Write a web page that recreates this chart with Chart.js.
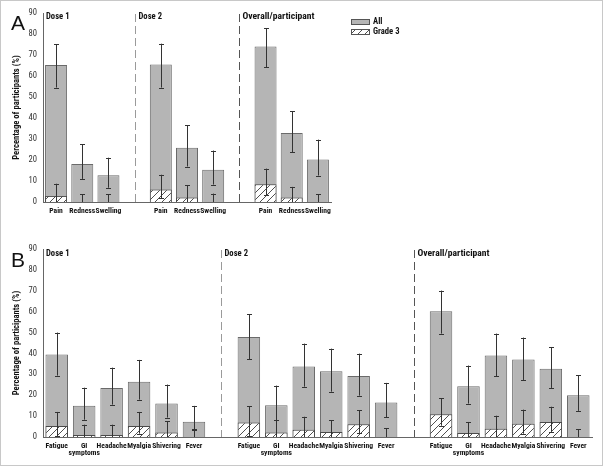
<!DOCTYPE html>
<html>
<head>
<meta charset="utf-8">
<script src="https://cdn.jsdelivr.net/npm/chart.js@4.4.0/dist/chart.umd.min.js"></script>
<style>
  body { margin: 0; background: #fff; }
  #marco { position: relative; width: 603px; height: 466px; overflow: hidden; }
  #marco canvas { position: absolute; left: 0; }
  .letra { position: absolute; font: 21px "Liberation Sans", Arial, sans-serif; color: #111; }
  #borde { position: absolute; left: 0; top: 0; width: 601px; height: 464px; border: 1px solid #c8c8c8; pointer-events: none; }
</style>
</head>
<body>
<div id="marco">
  <canvas id="graficoA" width="603" height="220" style="top:0"></canvas>
  <canvas id="graficoB" width="603" height="246" style="top:220px"></canvas>
  <div class="letra" style="left:11px;top:11px">A</div>
  <div class="letra" style="left:11px;top:248px">B</div>
  <div id="borde"></div>
</div>
<script>
// Panel A: reacciones locales
var categoriasA = ["Pain", "Redness", "Swelling", "", "Pain", "Redness", "Swelling", "", "Pain", "Redness", "Swelling"];
var todosA = [65.2, 18.1, 12.7, null, 65.5, 25.8, 15.3, null, 74.1, 32.8, 20.2];
var todosBajoA = [54.5, 11.0, 6.8, null, 54.5, 16.9, 8.3, null, 64.1, 23.7, 12.6];
var todosAltoA = [75.0, 27.5, 21.1, null, 75.4, 36.6, 24.5, null, 82.7, 43.1, 29.7];
var grado3A = [2.9, 0, 0, null, 5.9, 2.2, 0, null, 8.4, 2.2, 0];
var grado3BajoA = [0, 0, 0, null, 1.9, 0, 0, null, 3.3, 0, 0];
var grado3AltoA = [8.7, 3.7, 3.7, null, 13.0, 8.1, 4.0, null, 15.9, 7.2, 3.7];
var seccionesA = ["Dose 1", "Dose 2", "Overall/participant"];
var inicioSeccionA = [0, 4, 8];

// Panel B: reacciones sistemicas
var categoriasB = ["Fatigue", ["GI", "symptoms"], "Headache", "Myalgia", "Shivering", "Fever", "",
                   "Fatigue", ["GI", "symptoms"], "Headache", "Myalgia", "Shivering", "Fever", "",
                   "Fatigue", ["GI", "symptoms"], "Headache", "Myalgia", "Shivering", "Fever"];
var todosB = [39.5, 15.0, 23.5, 26.5, 16.0, 7.3, null, 47.9, 15.2, 33.7, 31.5, 29.2, 16.5, null, 60.2, 24.3, 39.0, 37.1, 32.7, 20.0];
var todosBajoB = [29.4, 8.3, 15.5, 17.9, 9.3, 3.2, null, 37.2, 8.1, 24.1, 21.7, 19.8, 9.4, null, 49.5, 16.0, 29.1, 27.3, 23.5, 12.5];
var todosAltoB = [50.0, 23.6, 33.2, 36.9, 25.1, 14.9, null, 58.8, 24.6, 44.7, 42.3, 39.9, 25.9, null, 70.1, 34.2, 49.5, 47.6, 43.1, 29.6];
var grado3B = [5.3, 1.0, 1.0, 5.3, 2.1, 0, null, 6.9, 2.2, 3.5, 2.4, 6.1, 0, null, 10.9, 1.9, 4.0, 6.4, 7.2, 0];
var grado3BajoB = [0.5, 0, 0, 1.6, 0, 0, null, 0.5, 0, 0, 0, 1.9, 0, null, 5.4, 0, 0, 1.6, 2.6, 0];
var grado3AltoB = [12.0, 5.9, 5.9, 12.0, 7.5, 3.7, null, 14.7, 8.1, 9.7, 8.1, 12.9, 4.2, null, 18.5, 7.2, 10.2, 13.1, 14.5, 3.8];
var seccionesB = ["Dose 1", "Dose 2", "Overall/participant"];
var inicioSeccionB = [0, 7, 14];

var etiquetasY = [0, 90, 10];
var tituloY = "Percentage of participants (%)";
var leyenda = ["All", "Grade 3"];

// Roboto con "condensed" da una letra angosta parecida a Arial Narrow
var familia = "Roboto, sans-serif";

document.addEventListener("DOMContentLoaded", function() {

  // Patron rayado para grado 3
  function crearRayado(ctx) {
    var c = document.createElement("canvas");
    c.width = 7; c.height = 7;
    var g = c.getContext("2d");
    g.fillStyle = "#fff";
    g.fillRect(0, 0, 7, 7);
    g.strokeStyle = "#3c3c3c";
    g.lineWidth = 0.9;
    g.beginPath();
    g.moveTo(0, 7); g.lineTo(7, 0);
    g.moveTo(-1, 1); g.lineTo(1, -1);
    g.moveTo(6, 8); g.lineTo(8, 6);
    g.stroke();
    return ctx.createPattern(c, "repeat");
  }

  // Barras de error
  var pluginErrores = {
    id: "errores",
    afterDatasetsDraw: function(chart) {
      var ctx = chart.ctx;
      var y = chart.scales.y;
      ctx.save();
      ctx.strokeStyle = "#333";
      ctx.lineWidth = 1;
      chart.data.datasets.forEach(function(ds, d) {
        var meta = chart.getDatasetMeta(d);
        ds.data.forEach(function(v, i) {
          if (v === null) return;
          var x = Math.round(meta.data[i].x) + 0.5;
          var lo = ds.errBajo[i], hi = ds.errAlto[i];
          var yLo = y.getPixelForValue(lo), yHi = y.getPixelForValue(hi);
          ctx.beginPath();
          ctx.moveTo(x, yLo); ctx.lineTo(x, yHi);
          ctx.moveTo(x - 2.5, Math.round(yHi) + 0.5); ctx.lineTo(x + 2.5, Math.round(yHi) + 0.5);
          if (lo > 0) {
            ctx.moveTo(x - 2.5, Math.round(yLo) + 0.5); ctx.lineTo(x + 2.5, Math.round(yLo) + 0.5);
          }
          ctx.stroke();
        });
      });
      ctx.restore();
    }
  };

  // Lineas divisorias, titulos de seccion y leyenda
  var pluginSecciones = {
    id: "secciones",
    afterDraw: function(chart, args, opts) {
      var ctx = chart.ctx;
      var x = chart.scales.x;
      var area = chart.chartArea;
      ctx.save();
      opts.inicios.forEach(function(ini, s) {
        var tx = area.left + 3;
        if (ini > 0) {
          var px = Math.round(x.getPixelForValue(ini - 1)) + 0.5;
          ctx.strokeStyle = s === 1 ? "#9a9a9a" : "#555";
          ctx.lineWidth = 1;
          ctx.setLineDash([8, 4]);
          ctx.beginPath();
          ctx.moveTo(px, area.top + 1);
          ctx.lineTo(px, area.bottom);
          ctx.stroke();
          ctx.setLineDash([]);
          tx = px + 3;
        }
        var grande = opts.titulos[s].length > 10;
        ctx.fillStyle = "#111";
        ctx.font = "condensed bold " + (grande ? 9.6 : 8.6) + "px " + familia;
        ctx.textBaseline = "middle";
        ctx.fillText(opts.titulos[s], tx, area.top + opts.dy);
      });
      if (opts.leyenda) {
        var lx = 351, ly = 19;
        ctx.lineWidth = 1;
        ctx.strokeStyle = "#555";
        ctx.fillStyle = "#b5b5b5";
        ctx.fillRect(lx, ly, 18, 5);
        ctx.strokeRect(lx + 0.5, ly + 0.5, 18, 5);
        ctx.fillStyle = crearRayado(ctx);
        ctx.fillRect(lx, ly + 10, 18, 5);
        ctx.strokeRect(lx + 0.5, ly + 10.5, 18, 5);
        ctx.fillStyle = "#111";
        ctx.font = "condensed bold 8.6px " + familia;
        ctx.textBaseline = "middle";
        ctx.fillText(leyenda[0], lx + 22, ly + 3);
        ctx.fillText(leyenda[1], lx + 22, ly + 13);
      }
      ctx.restore();
    }
  };

  function renderizarGrafica(canvas, cats, todos, tBajo, tAlto, g3, gBajo, gAlto, titulos, inicios, conf) {
    var ctx = canvas.getContext("2d");
    return new Chart(canvas, {
      type: "bar",
      data: {
        labels: cats,
        datasets: [
          {
            label: leyenda[1],
            data: g3,
            errBajo: gBajo,
            errAlto: gAlto,
            backgroundColor: crearRayado(ctx),
            borderColor: "#4a4a4a",
            borderWidth: 1,
            grouped: false,
            order: 0,
            barPercentage: conf.barra,
            categoryPercentage: 1
          },
          {
            label: leyenda[0],
            data: todos,
            errBajo: tBajo,
            errAlto: tAlto,
            backgroundColor: "#b5b5b5",
            borderColor: "#6a6a6a",
            borderWidth: 1,
            grouped: false,
            order: 1,
            barPercentage: conf.barra,
            categoryPercentage: 1
          }
        ]
      },
      options: {
        responsive: false,
        animation: false,
        layout: { padding: { left: 12, top: conf.arriba, right: conf.derecha, bottom: 0 } },
        plugins: {
          legend: { display: false },
          tooltip: { enabled: false },
          secciones: { titulos: titulos, inicios: inicios, dy: conf.dy, leyenda: conf.leyenda }
        },
        scales: {
          x: {
            grid: { display: false, drawTicks: false },
            border: { display: true, color: "#666", width: 1 },
            ticks: {
              color: "#111",
              padding: conf.pad,
              maxRotation: 0,
              autoSkip: false,
              font: { family: familia, size: 7.6, weight: "condensed bold", lineHeight: 1.0 }
            },
            afterFit: function(s) { s.height = conf.altoX; }
          },
          y: {
            min: etiquetasY[0],
            max: etiquetasY[1],
            grid: { display: false, drawTicks: true, tickLength: 3 },
            border: { display: true, color: "#666", width: 1 },
            ticks: {
              stepSize: etiquetasY[2],
              color: "#333",
              padding: 3,
              font: { family: familia, size: 8.6, weight: "condensed" }
            },
            title: {
              display: true,
              text: tituloY,
              color: "#111",
              padding: 0,
              font: { family: familia, size: 8.6, weight: "condensed bold" }
            },
            afterFit: function(s) { s.width = 31; }
          }
        }
      },
      plugins: [pluginErrores, pluginSecciones]
    });
  }

  renderizarGrafica(document.getElementById("graficoA"), categoriasA, todosA, todosBajoA, todosAltoA,
    grado3A, grado3BajoA, grado3AltoA, seccionesA, inicioSeccionA,
    { arriba: 13, derecha: 272, altoX: 18, pad: 5, barra: 0.84, dy: 4, leyenda: true });

  renderizarGrafica(document.getElementById("graficoB"), categoriasB, todosB, todosBajoB, todosAltoB,
    grado3B, grado3BajoB, grado3AltoB, seccionesB, inicioSeccionB,
    { arriba: 29, derecha: 11, altoX: 29, pad: 5, barra: 0.82, dy: 5, leyenda: false });
});
</script>
</body>
</html>
